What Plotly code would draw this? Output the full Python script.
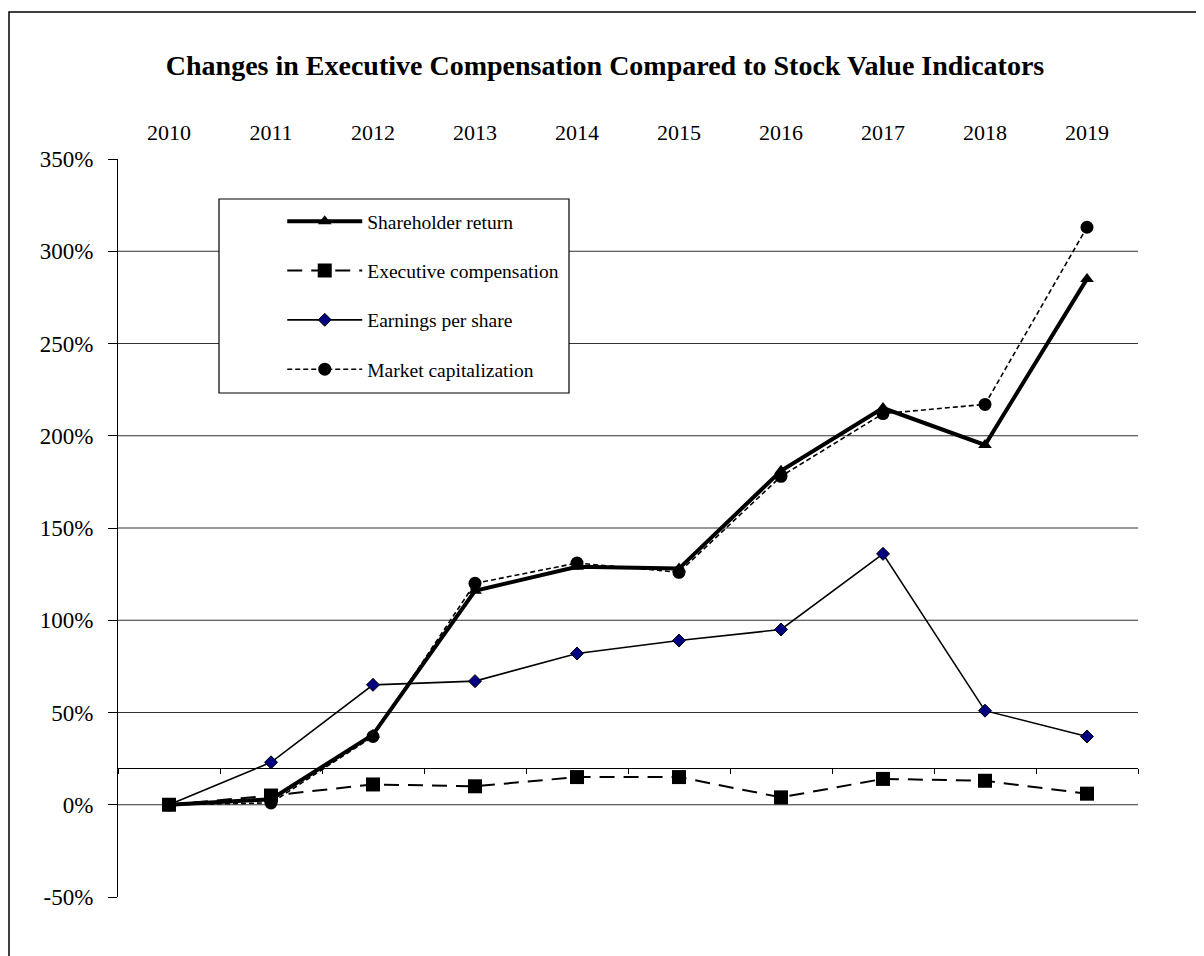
import plotly.graph_objects as go

YEARS = [2010, 2011, 2012, 2013, 2014, 2015, 2016, 2017, 2018, 2019]
SHAREHOLDER_RETURN = [0, 3, 38, 116, 129, 128, 181, 215, 195, 285]
EXEC_COMP = [0, 5, 11, 10, 15, 15, 4, 14, 13, 6]
EPS = [0, 23, 65, 67, 82, 89, 95, 136, 51, 37]
MARKET_CAP = [0, 1, 37, 120, 131, 126, 178, 212, 217, 313]
Y_TICKS = [-50, 0, 50, 100, 150, 200, 250, 300, 350]
GRID_VALUES = [0, 50, 100, 150, 200, 250, 300]
X_AXIS_CROSS = 20
Y_RANGE = [-50, 350]

TITLE = "Changes in Executive Compensation Compared to Stock Value Indicators"
FONT = "Liberation Serif, Times New Roman, serif"

# page offset (body margin) compensation
OFF = 8
ML, MT = 118 - OFF, 159 - OFF
PW, PH = 1020, 738
W, H = 1204, 956


def px_x(px):
    return (px - OFF - ML) / PW


def px_y(py):
    return (MT + PH - (py - OFF)) / PH


fig = go.Figure()

fig.add_trace(go.Scatter(
    x=YEARS, y=SHAREHOLDER_RETURN, name="Shareholder return", legendgroup="a",
    mode="lines+markers", line=dict(color="black", width=4),
    marker=dict(symbol="triangle-up", size=12, color="black")))
fig.add_trace(go.Scatter(
    x=YEARS, y=EXEC_COMP, name="Executive compensation", legendgroup="b",
    mode="lines+markers", line=dict(color="black", width=2, dash="15px,9px"),
    marker=dict(symbol="square", size=14, color="black")))
fig.add_trace(go.Scatter(
    x=YEARS, y=EPS, name="Earnings per share", legendgroup="c",
    mode="lines+markers", line=dict(color="black", width=1.6),
    marker=dict(symbol="diamond", size=10, color="#000080",
                line=dict(color="black", width=1))))
fig.add_trace(go.Scatter(
    x=YEARS, y=MARKET_CAP, name="Market capitalization", legendgroup="d",
    mode="lines+markers", line=dict(color="black", width=1.6, dash="5px,3px"),
    marker=dict(symbol="circle", size=13, color="black")))
# invisible helper so the crossing category axis is drawn
fig.add_trace(go.Scatter(
    x=YEARS, y=EXEC_COMP, xaxis="x2", mode="markers", opacity=0,
    showlegend=False, hoverinfo="skip"))

# horizontal gridlines
shapes = []
for v in GRID_VALUES:
    shapes.append(dict(type="line", xref="paper", yref="y", x0=0, x1=1, y0=v, y1=v,
                       line=dict(color="#333333", width=1.2), layer="below"))
# legend box
shapes.append(dict(type="rect", xref="paper", yref="paper",
                   x0=px_x(219), x1=px_x(569), y0=px_y(393), y1=px_y(199),
                   line=dict(color="black", width=1.2), fillcolor="white", layer="above"))
# outer frame
shapes.append(dict(type="rect", xref="paper", yref="paper",
                   x0=px_x(9), x1=px_x(1225), y0=px_y(975), y1=px_y(12),
                   line=dict(color="black", width=1.5), fillcolor="rgba(0,0,0,0)", layer="below"))

x_range = [YEARS[0] - 0.5, YEARS[-1] + 0.5]
boundaries = [y - 0.5 for y in YEARS] + [YEARS[-1] + 0.5]

fig.update_layout(
    width=W, height=H,
    margin=dict(l=ML, r=W - ML - PW, t=MT, b=H - MT - PH, autoexpand=False),
    paper_bgcolor="white", plot_bgcolor="white",
    font=dict(family=FONT, color="black", size=22),
    title=dict(text="<b>" + TITLE + "</b>", x=(605 - OFF) / W, xref="container",
               xanchor="center", y=1 - (65 - OFF) / H, yref="container", yanchor="middle",
               font=dict(family=FONT, size=28, color="black")),
    xaxis=dict(range=x_range, side="top", anchor="y", tickmode="array", tickvals=YEARS,
               ticktext=[str(y) for y in YEARS], showline=False, showgrid=False,
               zeroline=False, ticks="", ticklabelstandoff=14,
               tickfont=dict(size=22, family=FONT, color="black")),
    xaxis2=dict(range=x_range, overlaying="x", anchor="free",
                position=(X_AXIS_CROSS - Y_RANGE[0]) / (Y_RANGE[1] - Y_RANGE[0]),
                tickmode="array", tickvals=boundaries, showticklabels=False,
                showline=True, linecolor="black", linewidth=1.2,
                ticks="outside", ticklen=5, tickcolor="black", tickwidth=1.2,
                showgrid=False, zeroline=False),
    yaxis=dict(range=Y_RANGE, tickmode="array", tickvals=Y_TICKS,
               ticktext=[f"{v}%" for v in Y_TICKS], showline=True, linecolor="black",
               linewidth=1.2, ticks="outside", ticklen=9, tickcolor="black", tickwidth=1.2,
               showgrid=False, zeroline=False, ticklabelstandoff=10,
               tickfont=dict(size=23, family=FONT, color="black")),
    legend=dict(x=px_x(219) + 0.062, xanchor="left",
                y=px_y(199) - 0.004, yanchor="top",
                bgcolor="rgba(0,0,0,0)", borderwidth=0, itemwidth=75,
                tracegroupgap=21, font=dict(family=FONT, size=19.5, color="black")),
    shapes=shapes,
    showlegend=True,
)

fig.write_html("out.html")
